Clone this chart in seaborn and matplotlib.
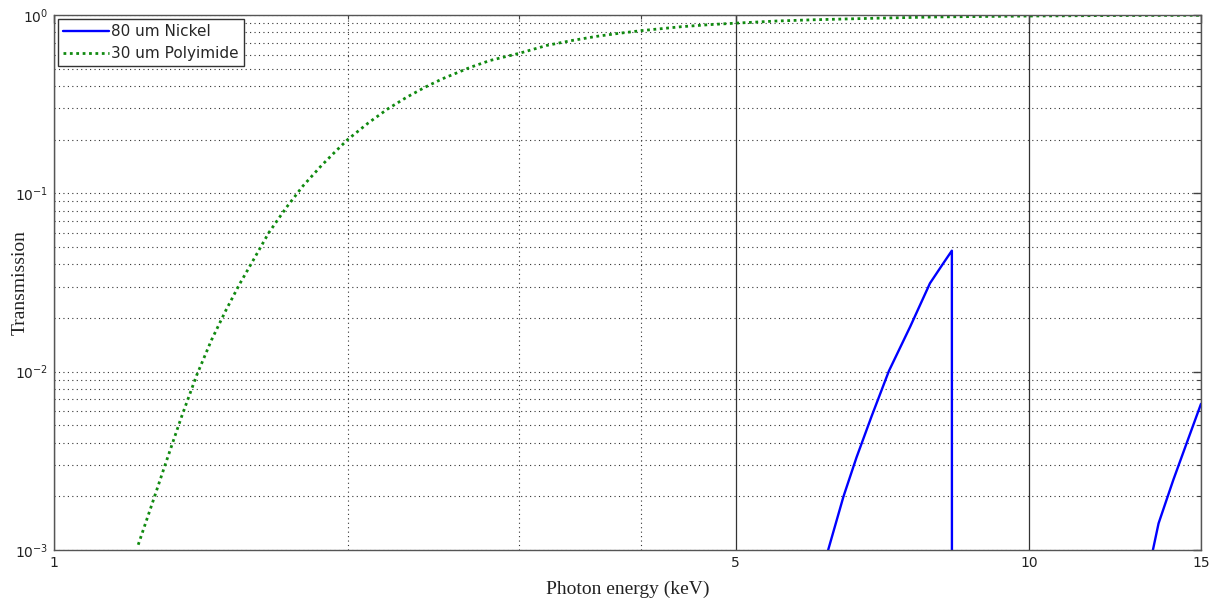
import numpy as np
import pandas as pd
import matplotlib
matplotlib.use("Agg")
import matplotlib.pyplot as plt
import seaborn as sns
from matplotlib.ticker import FixedLocator, NullFormatter, FuncFormatter, LogLocator

# ---- data ----
nickel_energy = [5.0, 6.0, 6.22, 6.45, 6.65, 6.89, 7.18, 7.55, 7.91, 8.15, 8.33,
                 8.335, 9.0, 10.0, 11.0, 12.0, 13.0, 13.39, 13.57, 14.05, 14.5, 15.0]
nickel_trans = [1e-6, 3e-4, 1.0e-3, 2.0e-3, 3.3e-3, 5.6e-3, 1.01e-2, 1.79e-2, 3.13e-2, 4.0e-2, 4.77e-2,
                1e-9, 1e-8, 1e-7, 2e-6, 2e-5, 3e-4, 1.0e-3, 1.41e-3, 2.47e-3, 3.97e-3, 6.6e-3]

poly_energy = [1.22, 1.26, 1.30, 1.35, 1.40, 1.45, 1.50, 1.55, 1.60, 1.66, 1.73, 1.80, 1.88,
               1.94, 2.00, 2.10, 2.20, 2.30, 2.40, 2.50, 2.67, 2.80, 3.00, 3.20, 3.40, 3.60,
               3.80, 4.00, 4.40, 4.70, 5.00, 5.50, 6.00, 7.00, 8.00, 10.0, 12.0, 15.0]
poly_trans = [0.00107, 0.0018, 0.0030, 0.0055, 0.0095, 0.0150, 0.022, 0.031, 0.042, 0.060, 0.083,
              0.110, 0.143, 0.170, 0.200, 0.248, 0.298, 0.346, 0.393, 0.438, 0.508, 0.556, 0.610,
              0.675, 0.720, 0.759, 0.790, 0.817, 0.860, 0.883, 0.900, 0.925, 0.940, 0.960, 0.975,
              0.987, 0.993, 0.996]

label_ni = "80 um Nickel"
label_pi = "30 um Polyimide"
x_ticks = [1, 5, 10, 15]
x_minor = [2, 3, 4]

df_ni = pd.DataFrame({"E": nickel_energy, "T": nickel_trans})
df_pi = pd.DataFrame({"E": poly_energy, "T": poly_trans})

sns.set_style("white")
plt.rcParams["font.family"] = ["DejaVu Sans"]
plt.rcParams["mathtext.default"] = "regular"

fig = plt.figure(figsize=(12.14, 6.04), dpi=100)
ax = fig.add_axes([54 / 1214, 1 - 550 / 604, (1201 - 54) / 1214, (550 - 15) / 604])

sns.lineplot(data=df_ni, x="E", y="T", ax=ax, color="#0000ff", linewidth=1.7,
             estimator=None, sort=False, label=label_ni)
sns.lineplot(data=df_pi, x="E", y="T", ax=ax, color="#108a10", linewidth=2.0,
             linestyle=(0, (1, 1.3)), estimator=None, sort=False, label=label_pi)

ax.set_xscale("log")
ax.set_yscale("log")
ax.set_xlim(1, 15)
ax.set_ylim(1e-3, 1)

ax.xaxis.set_major_locator(FixedLocator(x_ticks))
ax.xaxis.set_major_formatter(FuncFormatter(lambda v, p: f"{v:g}"))
ax.xaxis.set_minor_locator(FixedLocator(x_minor))
ax.xaxis.set_minor_formatter(NullFormatter())
ax.yaxis.set_major_locator(LogLocator(base=10, numticks=10))
ax.yaxis.set_minor_locator(LogLocator(base=10, subs=np.arange(2, 10), numticks=20))
ax.yaxis.set_minor_formatter(NullFormatter())
ax.yaxis.set_major_formatter(FuncFormatter(lambda v, p: r"$10^{%d}$" % int(round(np.log10(v)))))

ax.tick_params(which="both", direction="in", top=True, right=True, colors="#404040",
               labelcolor="#222222", labelsize=10)
ax.tick_params(which="major", length=6, width=1.0, pad=4)
ax.tick_params(which="minor", length=3, width=0.8)

ax.grid(False)
ax.grid(which="major", axis="x", linestyle="-", color="#333333", linewidth=0.9)
ax.grid(which="minor", axis="x", linestyle=(0, (1, 3)), color="#333333", linewidth=0.8)
ax.grid(which="both", axis="y", linestyle=(0, (1, 3)), color="#333333", linewidth=0.8)

for s in ax.spines.values():
    s.set_color("#555555")
    s.set_linewidth(1.0)

ax.set_xlabel("Photon energy (keV)", family="Liberation Serif", fontsize=14, color="#222222")
ax.set_ylabel("Transmission", family="Liberation Serif", fontsize=14, color="#222222")
ax.xaxis.set_label_coords(0.5, -0.058)
ax.yaxis.set_label_coords(-0.022, 0.5)

leg = ax.legend(loc="upper left", fontsize=11, frameon=True, fancybox=False,
                borderaxespad=0.25, handlelength=3.0, handletextpad=0.1, borderpad=0.35,
                labelspacing=0.45)
leg.get_frame().set_edgecolor("#333333")
leg.get_frame().set_linewidth(1.0)
leg.get_frame().set_alpha(1.0)

fig.savefig("out.png", dpi=100, facecolor="white")
